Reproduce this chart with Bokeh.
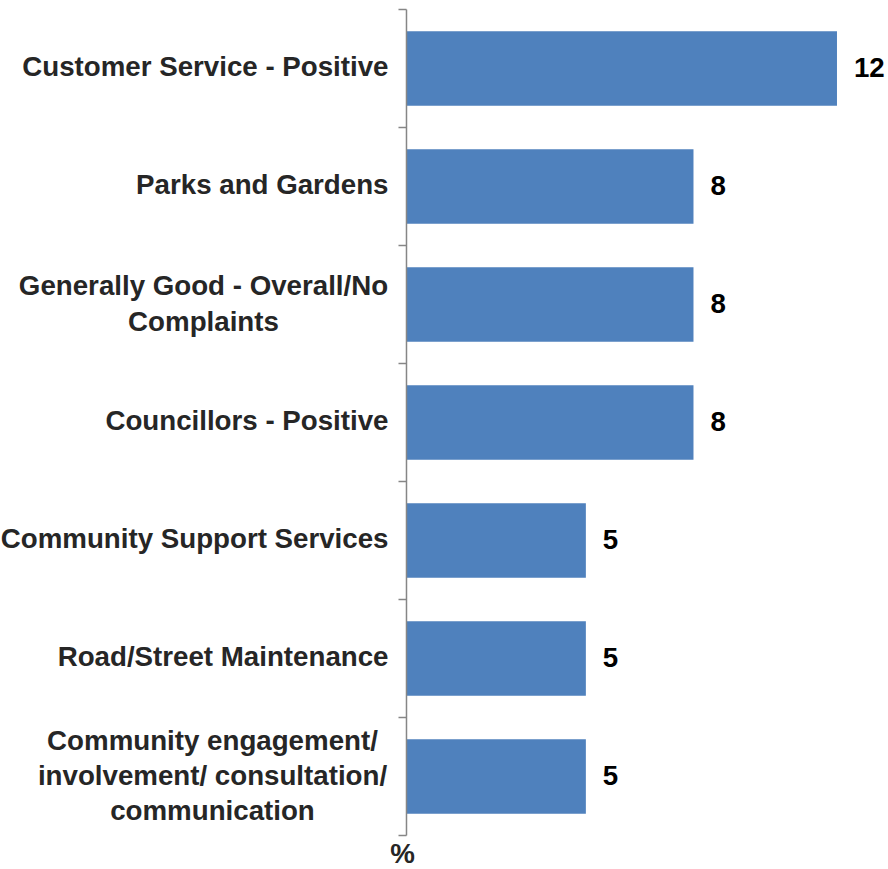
import math
from bokeh.plotting import figure
from bokeh.models import Range1d, Label, LabelSet, ColumnDataSource
from bokeh.core.properties import value
from bokeh.embed import file_html
from bokeh.resources import INLINE

categories = [
    "Customer Service - Positive",
    "Parks and Gardens",
    "Generally Good - Overall/No\nComplaints",
    "Councillors - Positive",
    "Community Support Services",
    "Road/Street Maintenance",
    "Community engagement/\ninvolvement/ consultation/\ncommunication",
]
values = [12, 8, 8, 8, 5, 5, 5]
unit_label = "%"

n = len(categories)
pos = [n - i - 0.5 for i in range(n)]
bounds = list(range(n + 1))

FONT = "Liberation Sans"
FS = "27.7px"
BAR = "#4F81BD"
AXIS = "#868686"
TXT = "#262626"

p = figure(width=888, height=869, output_backend="svg", toolbar_location=None,
           x_range=Range1d(-11.317, 13.436), y_range=Range1d(-0.2881, 7.0763),
           x_axis_location=None, y_axis_location=None,
           min_border_left=0, min_border_right=0, min_border_top=0, min_border_bottom=0)
p.outline_line_color = None
p.xgrid.visible = False
p.ygrid.visible = False
p.background_fill_color = "white"
p.border_fill_color = "white"

src = ColumnDataSource(dict(y=pos, v=values, t=[str(v) for v in values]))
p.hbar(y="y", left=0, right="v", height=0.63, source=src, fill_color=BAR, line_color=None)

# value axis line and category boundary ticks
p.segment(x0=[0], y0=[bounds[0]], x1=[0], y1=[bounds[-1]], line_color=AXIS, line_width=1.5)
p.ray(x=[0] * len(bounds), y=bounds, length=8, length_units="screen", angle=math.pi,
      line_color=AXIS, line_width=1.5)

p.add_layout(LabelSet(x="v", y="y", text="t", source=src, x_offset=17, y_offset=1,
                      text_align="left", text_baseline="middle",
                      text_font=value(FONT), text_font_size=value(FS),
                      text_font_style="bold", text_color="black"))

center_offsets = {2: -203, 6: -194}
for i, (c, y) in enumerate(zip(categories, pos)):
    if "\n" in c:
        lab = Label(x=0, y=y, text=c, x_offset=center_offsets[i], y_offset=1,
                    text_align="center", text_baseline="middle", text_line_height=1.13)
    else:
        lab = Label(x=0, y=y, text=c, x_offset=-18, y_offset=2,
                    text_align="right", text_baseline="middle")
    lab.text_font = FONT
    lab.text_font_size = FS
    lab.text_font_style = "bold"
    lab.text_color = TXT
    p.add_layout(lab)

p.add_layout(Label(x=0, y=0, text=unit_label, x_offset=-4, y_offset=-18, text_align="center",
                   text_baseline="middle", text_line_height=1.0, text_font=FONT,
                   text_font_size=FS, text_font_style="bold", text_color=TXT))

open("out.html", "w").write(file_html(p, INLINE))
